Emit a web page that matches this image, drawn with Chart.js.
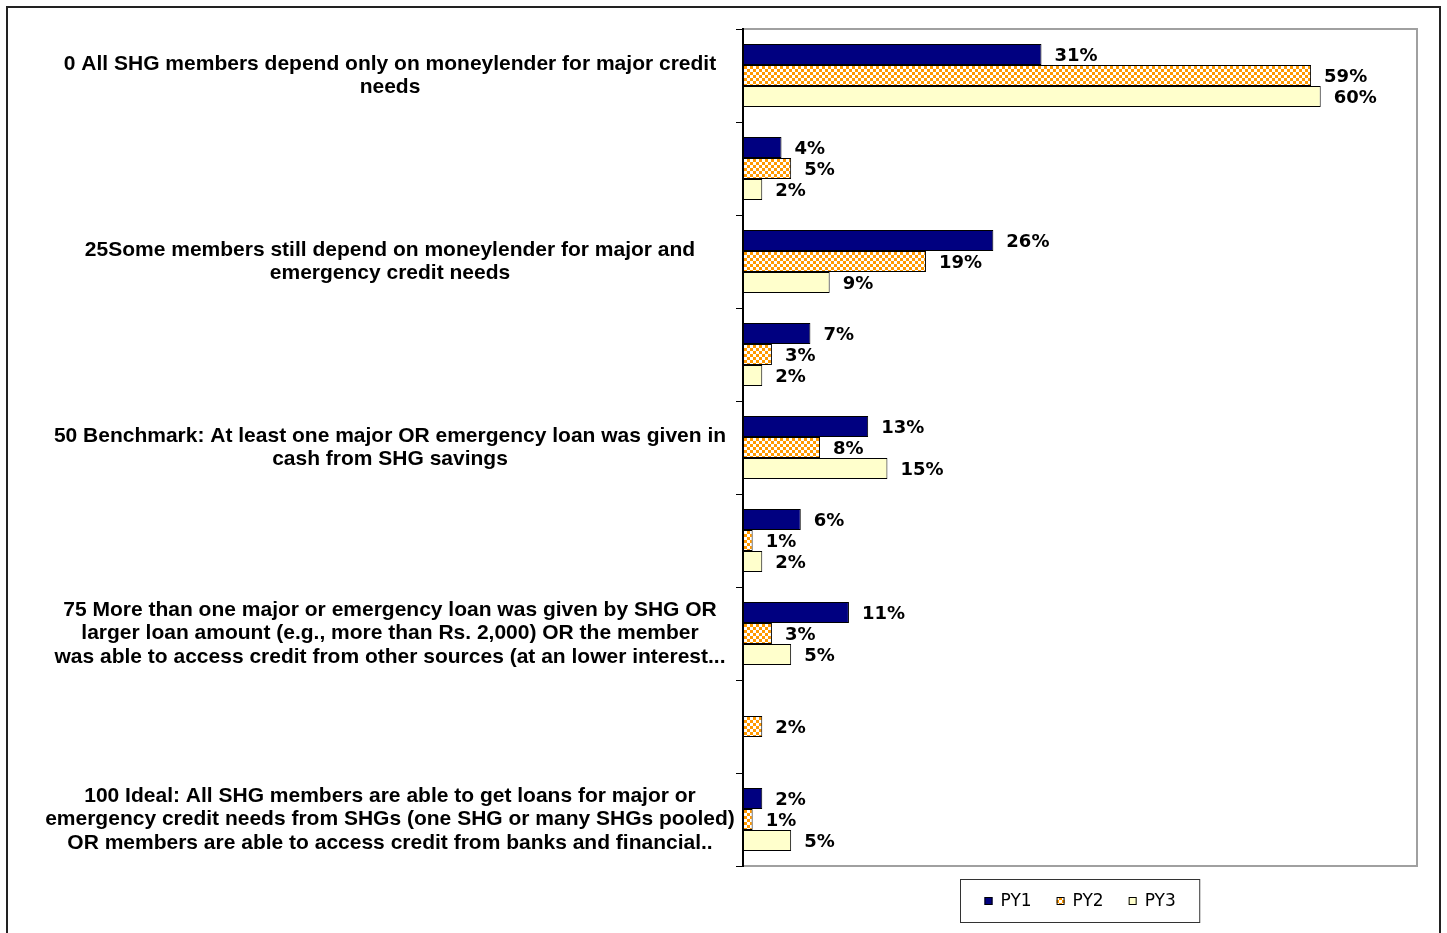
<!DOCTYPE html>
<html>
<head>
<meta charset="utf-8">
<script src="https://cdn.jsdelivr.net/npm/chart.js@4"></script>
<style>
  html, body { margin: 0; padding: 0; background: #fff; }
  #wrap { position: relative; width: 1447px; height: 933px; }
</style>
</head>
<body>
<div id="wrap"><canvas id="c" width="1447" height="933"></canvas></div>
<script>
// Scoring levels (only every other row carries a description)
const categories = [
  ['0 All SHG members depend only on moneylender for major credit', 'needs'],
  '',
  ['25Some members still depend on moneylender for major and', 'emergency credit needs'],
  '',
  ['50 Benchmark: At least one major OR emergency loan was given in', 'cash from SHG savings'],
  '',
  ['75 More than one major or emergency loan was given by SHG OR',
   'larger loan amount (e.g., more than Rs. 2,000) OR the member',
   'was able to access credit from other sources (at an lower interest...'],
  '',
  ['100 Ideal: All SHG members are able to get loans for major or',
   'emergency credit needs from SHGs (one SHG or many SHGs pooled)',
   'OR members are able to access credit from banks and financial..']
];

const seriesNames = ['PY1', 'PY2', 'PY3'];

// Share of SHGs at each level, in percent
const py1 = [31, 4, 26, 7, 13, 6, 11, null, 2];
const py2 = [59, 5, 19, 3, 8, 1, 3, 2, 1];
const py3 = [60, 2, 9, 2, 15, 2, 5, null, 5];

const xMax = 70;

// Orange / white checker fill for PY2
function checker() {
  const c = document.createElement('canvas');
  c.width = 6; c.height = 6;
  const g = c.getContext('2d');
  g.fillStyle = '#ffffff';
  g.fillRect(0, 0, 6, 6);
  g.fillStyle = '#ff9900';
  g.fillRect(0, 0, 3, 3);
  g.fillRect(3, 3, 3, 3);
  return g.createPattern(c, 'repeat');
}
const ctx0 = document.getElementById('c').getContext('2d');
const py2Fill = checker();

const fills = ['#000080', py2Fill, '#ffffcc'];
const swatches = ['#000080', null, '#ffffcc'];

const labelFontSize = 21;
const labelFont = 'bold ' + labelFontSize + 'px "Liberation Sans", Arial, sans-serif';
const valueFont = 'bold 18px "DejaVu Sans", Verdana, sans-serif';
const axisLeft = 743;
const labelCenter = 390;

const frame = {
  id: 'frame',
  beforeDraw(chart) {
    const { ctx, chartArea: a } = chart;
    ctx.save();
    // outer frame
    ctx.strokeStyle = '#222';
    ctx.lineWidth = 2;
    ctx.strokeRect(7, 7, 1433, 1000);
    // plot area frame
    ctx.strokeStyle = '#a0a0a0';
    ctx.lineWidth = 2;
    ctx.strokeRect(a.left, a.top, a.right - a.left, a.bottom - a.top);
    ctx.restore();
  }
};

const valueLabels = {
  id: 'valueLabels',
  afterDatasetsDraw(chart) {
    const { ctx } = chart;
    ctx.save();
    ctx.font = valueFont;
    ctx.fillStyle = '#000';
    ctx.textAlign = 'left';
    ctx.textBaseline = 'middle';
    chart.data.datasets.forEach((ds, i) => {
      const meta = chart.getDatasetMeta(i);
      meta.data.forEach((el, j) => {
        const v = ds.data[j];
        if (v === null || v === undefined) return;
        ctx.fillText(v + '%', el.x + 13, el.y + 2);
      });
    });
    ctx.restore();
  }
};

const boxLegend = {
  id: 'boxLegend',
  afterDraw(chart) {
    const { ctx, chartArea: a } = chart;
    ctx.save();
    ctx.font = '17px "DejaVu Sans", Verdana, sans-serif';
    ctx.textBaseline = 'middle';
    const sq = 8, gapSq = 8, gapItem = 25, padX = 24;
    const widths = seriesNames.map(n => ctx.measureText(n).width);
    let total = padX * 2;
    widths.forEach((w, i) => { total += sq + gapSq + w + (i < widths.length - 1 ? gapItem : 0); });
    const cx = (a.left + a.right) / 2;
    const bx = Math.round(cx - total / 2) + 0.5, by = 879.5, bh = 43;
    ctx.strokeStyle = '#333';
    ctx.lineWidth = 1;
    ctx.fillStyle = '#fff';
    ctx.fillRect(bx, by, total, bh);
    ctx.strokeRect(bx, by, total, bh);
    let x = bx + padX;
    const cy = by + bh / 2 + 1;
    seriesNames.forEach((n, i) => {
      ctx.fillStyle = i === 1 ? py2Fill : swatches[i];
      ctx.fillRect(x, cy - sq / 2 - 1, sq, sq);
      ctx.strokeStyle = '#000';
      ctx.strokeRect(x + 0.5, cy - sq / 2 - 0.5, sq - 1, sq - 1);
      x += sq + gapSq;
      ctx.fillStyle = '#000';
      ctx.fillText(n, x, cy);
      x += widths[i] + gapItem;
    });
    ctx.restore();
  }
};

new Chart(ctx0, {
  type: 'bar',
  data: {
    labels: categories,
    datasets: [py1, py2, py3].map((d, i) => ({
      label: seriesNames[i],
      data: d,
      backgroundColor: fills[i],
      borderColor: '#000',
      borderWidth: 1,
      borderSkipped: false,
      categoryPercentage: 0.68,
      barPercentage: 1.0
    }))
  },
  options: {
    indexAxis: 'y',
    responsive: false,
    animation: false,
    events: [],
    layout: { padding: { top: 29, right: 30, bottom: 67, left: 0 } },
    plugins: { legend: { display: false }, tooltip: { enabled: false } },
    scales: {
      x: { display: false, min: 0, max: xMax },
      y: {
        grid: { drawOnChartArea: false, tickLength: 7, color: '#000', lineWidth: 1, offset: true },
        border: { color: '#000', width: 2 },
        ticks: {
          crossAlign: 'center',
          color: '#000',
          font: { family: '"Liberation Sans", Arial, sans-serif', size: labelFontSize, weight: 'bold', lineHeight: 1.12 },
          padding: 4,
          autoSkip: false
        },
        afterFit(s) {
          s.width = axisLeft;
          s.paddingTop = 0;
          s.paddingBottom = 0;
          const c = s.ctx;
          c.save();
          c.font = labelFont;
          let widest = 0;
          categories.forEach(l => [].concat(l).forEach(t => { widest = Math.max(widest, c.measureText(t).width); }));
          c.restore();
          s.options.ticks.padding = axisLeft - 7 - labelCenter - widest / 2;
        }
      }
    }
  },
  plugins: [frame, valueLabels, boxLegend]
});
</script>
</body>
</html>
